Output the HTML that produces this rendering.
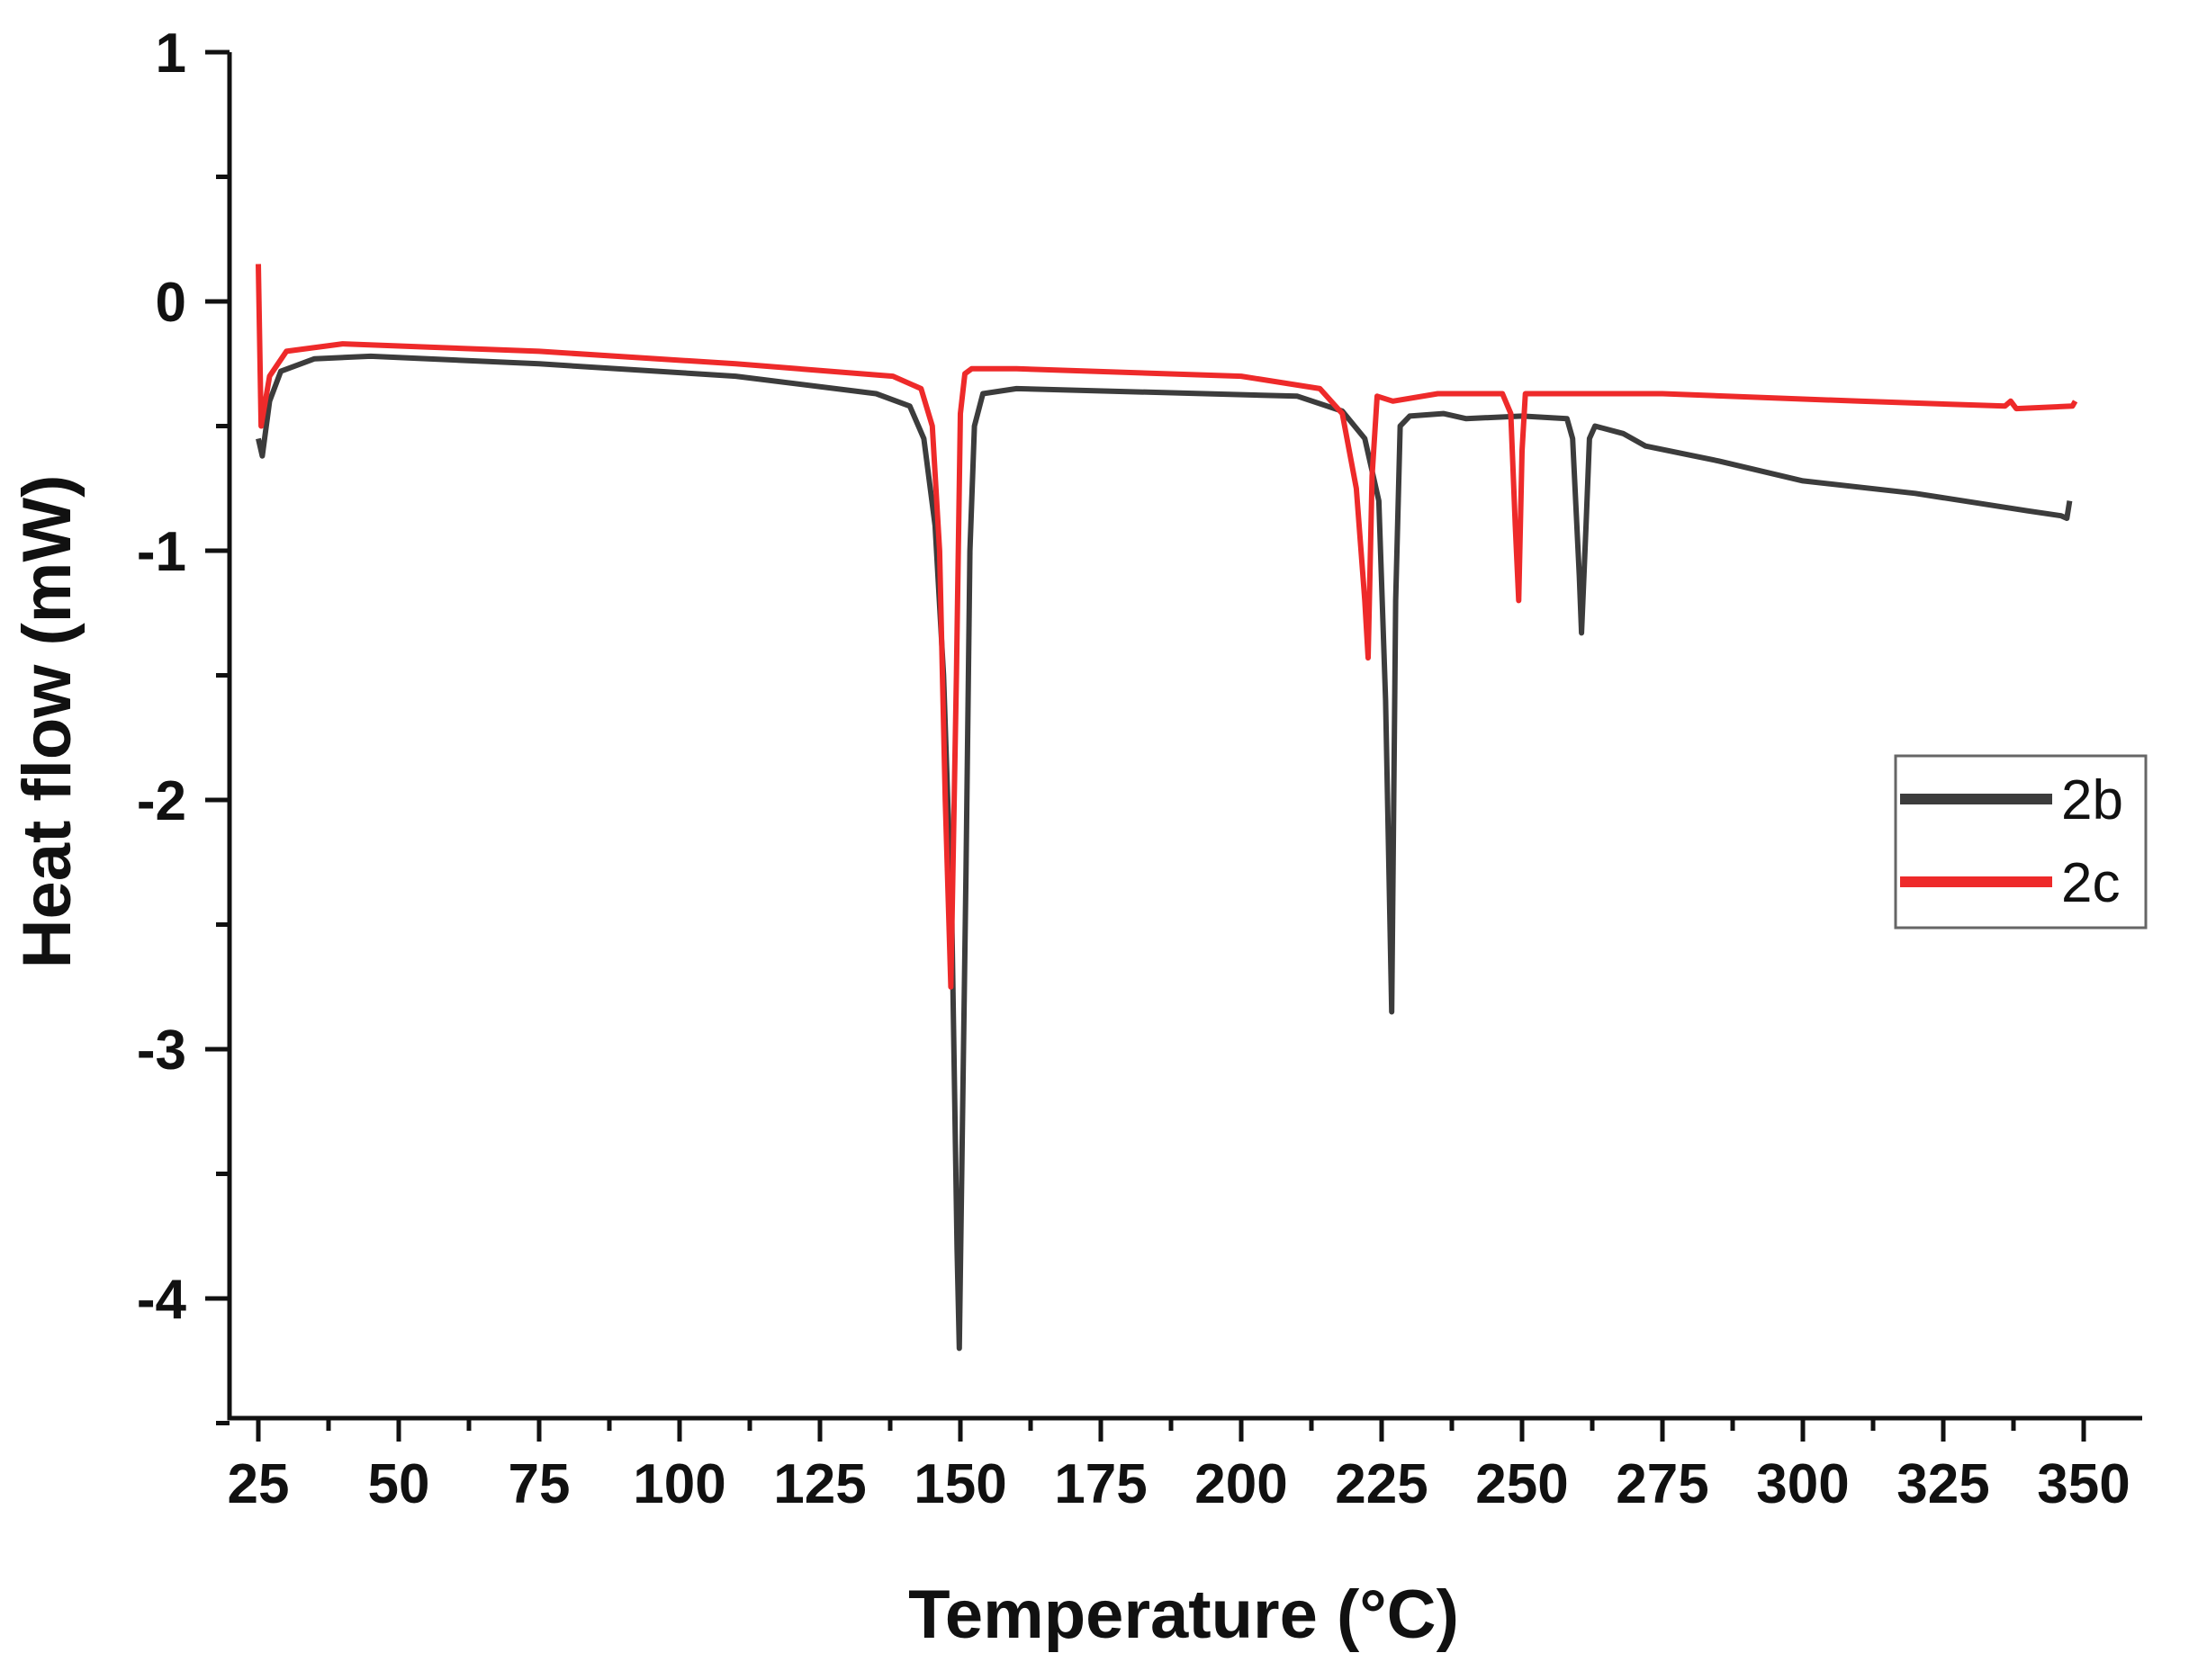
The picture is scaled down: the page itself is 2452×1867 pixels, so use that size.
<!DOCTYPE html>
<html><head><meta charset="utf-8"><style>
html,body{margin:0;padding:0;background:#fff;}
svg{display:block;}
text{font-family:"Liberation Sans",Arial,sans-serif;}
</style></head><body>
<svg id="s" width="2452" height="1867" viewBox="0 0 2452 1867" xmlns="http://www.w3.org/2000/svg">
<rect width="2452" height="1867" fill="#fff"/>
<g id="axes" stroke="#111" stroke-width="5" fill="none"></g>
<g id="labels" fill="#111" font-size="62" font-weight="bold"></g>
<path id="b" fill="none" stroke="#3c3c3c" stroke-width="6" stroke-linejoin="round"/>
<path id="c" fill="none" stroke="#ee2a2a" stroke-width="6" stroke-linejoin="round"/>
<text x="58" y="802" transform="rotate(-90 58 802)" text-anchor="middle" dominant-baseline="middle" font-size="76" font-weight="bold" fill="#111">Heat flow (mW)</text>
<text x="1315" y="1820" text-anchor="middle" font-size="76" font-weight="bold" fill="#111">Temperature (°C)</text>
<rect x="2106" y="840" width="278" height="191" fill="#fff" stroke="#666" stroke-width="3"/>
<line x1="2111" y1="888" x2="2280" y2="888" stroke="#3c3c3c" stroke-width="12"/>
<line x1="2111" y1="980" x2="2280" y2="980" stroke="#ee2a2a" stroke-width="12"/>
<text x="2290" y="910" font-size="62" fill="#111">2b</text>
<text x="2290" y="1002" font-size="62" fill="#111">2c</text>
</svg>
<script>
var X=function(t){return 287+(t-25)*6.24;},Y=function(v){return 335-277*v;};
var ax=document.getElementById('axes'),lb=document.getElementById('labels'),ns='http://www.w3.org/2000/svg';
function el(p,tag,a,txt){var e=document.createElementNS(ns,tag);for(var k in a)e.setAttribute(k,a[k]);if(txt!==undefined)e.textContent=txt;p.appendChild(e);return e;}
el(ax,'path',{d:'M255 58 V1576 H2380'});
for(var t=25;t<=350;t+=12.5){var big=(t%25==0);el(ax,'line',{x1:X(t),y1:1576,x2:X(t),y2:1576+(big?26:14)});if(big)el(lb,'text',{x:X(t),y:1670,'text-anchor':'middle'},String(t));}
for(var v=1;v>=-4.5;v-=0.5){var big=Math.abs(v-Math.round(v))<1e-6;el(ax,'line',{x1:255,y1:Y(v),x2:255-(big?27:15),y2:Y(v)});if(big)el(lb,'text',{x:207,y:Y(v)+22,'text-anchor':'end'},String(Math.round(v)));}
var c=[[25,0.15],[25.5,-0.5],[27,-0.3],[30,-0.2],[40,-0.17],[75,-0.2],[110,-0.25],[138,-0.3],[143,-0.35],[145,-0.5],[146.3,-1],[147.3,-2],[148.3,-2.75],[149.3,-1.5],[150,-0.45],[150.8,-0.29],[152,-0.27],[160,-0.27],[200,-0.3],[214,-0.35],[218,-0.45],[220.5,-0.75],[222,-1.2],[222.6,-1.43],[223.3,-0.7],[224.2,-0.38],[227,-0.4],[235,-0.37],[246.5,-0.37],[248,-0.45],[248.8,-0.9],[249.4,-1.2],[250,-0.6],[250.6,-0.37],[275,-0.37],[310,-0.4],[336,-0.42],[337,-0.4],[338,-0.43],[348,-0.42],[348.5,-0.4]];
var b=[[25,-0.55],[25.7,-0.62],[27,-0.4],[29,-0.28],[35,-0.23],[45,-0.22],[75,-0.25],[110,-0.3],[135,-0.37],[141,-0.42],[143.5,-0.55],[145.5,-0.9],[147,-1.5],[148.5,-2.5],[149.4,-3.8],[149.8,-4.2],[150.3,-3.4],[151,-2.3],[151.7,-1.0],[152.5,-0.5],[154,-0.37],[160,-0.35],[210,-0.38],[218,-0.44],[222,-0.55],[224.5,-0.8],[225.7,-1.6],[226.8,-2.85],[227.5,-1.2],[228.3,-0.5],[230,-0.46],[236,-0.45],[240,-0.47],[250,-0.46],[258,-0.47],[259,-0.55],[260.2,-1.1],[260.6,-1.33],[261.4,-0.9],[262,-0.55],[263,-0.5],[268,-0.53],[272,-0.58],[285,-0.64],[300,-0.72],[320,-0.77],[340,-0.84],[346,-0.86],[347,-0.87],[347.5,-0.8]];
function d(a){return a.map(function(p,i){return (i?'L':'M')+X(p[0]).toFixed(1)+' '+Y(p[1]).toFixed(1);}).join(' ');}
document.getElementById('b').setAttribute('d',d(b));document.getElementById('c').setAttribute('d',d(c));
</script>
</body></html>
